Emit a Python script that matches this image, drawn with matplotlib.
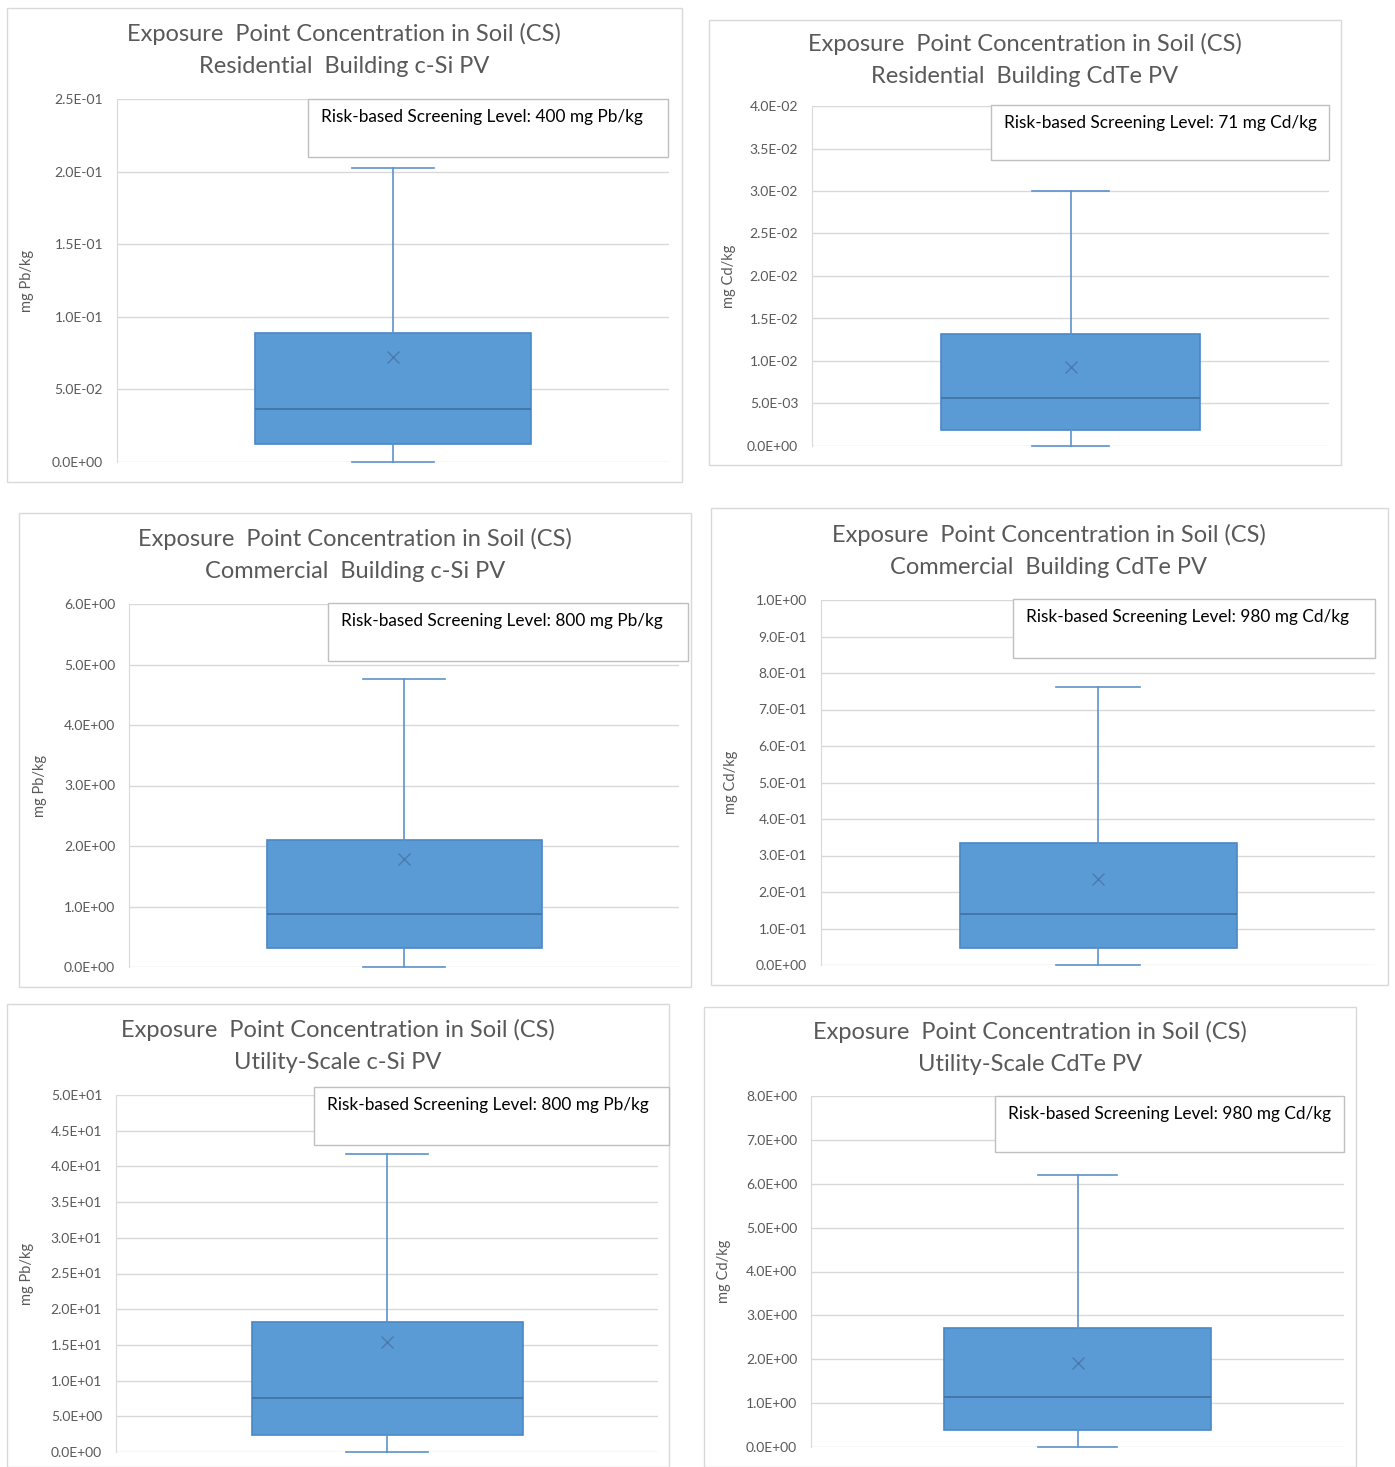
import numpy as np
import matplotlib.pyplot as plt
from matplotlib.patches import Rectangle

plt.rcParams['font.family'] = ['Lato', 'DejaVu Sans']

W, H = 1395, 1467

titles = [
    'Exposure  Point Concentration in Soil (CS)\nResidential  Building c-Si PV',
    'Exposure  Point Concentration in Soil (CS)\nResidential  Building CdTe PV',
    'Exposure  Point Concentration in Soil (CS)\nCommercial  Building c-Si PV',
    'Exposure  Point Concentration in Soil (CS)\nCommercial  Building CdTe PV',
    'Exposure  Point Concentration in Soil (CS)\nUtility-Scale c-Si PV',
    'Exposure  Point Concentration in Soil (CS)\nUtility-Scale CdTe PV',
]
ylabels = ['mg Pb/kg', 'mg Cd/kg', 'mg Pb/kg', 'mg Cd/kg', 'mg Pb/kg', 'mg Cd/kg']
screening = [
    'Risk-based Screening Level: 400 mg Pb/kg',
    'Risk-based Screening Level: 71 mg Cd/kg',
    'Risk-based Screening Level: 800 mg Pb/kg',
    'Risk-based Screening Level: 980 mg Cd/kg',
    'Risk-based Screening Level: 800 mg Pb/kg',
    'Risk-based Screening Level: 980 mg Cd/kg',
]
y_max = [0.25, 0.04, 6.0, 1.0, 50.0, 8.0]
y_step = [0.05, 0.005, 1.0, 0.1, 5.0, 1.0]

whis_lo = [0.0, 0.0, 0.0, 0.0, 0.0, 0.0]
q1 = [0.0124, 0.00188, 0.314, 0.047, 2.38, 0.39]
med = [0.0365, 0.00565, 0.876, 0.140, 7.56, 1.14]
mean = [0.0723, 0.0093, 1.785, 0.236, 15.4, 1.91]
q3 = [0.0888, 0.01318, 2.10, 0.334, 18.2, 2.71]
whis_hi = [0.2025, 0.030, 4.76, 0.762, 41.7, 6.20]

# pixel layout: frame, axes, text box (x0, y0, x1, y1), title centre, ylabel x
frames = [(7, 8, 682, 482), (709, 20, 1341, 465), (19, 513, 691, 987),
          (711, 508, 1388, 985), (7, 1004, 669, 1467), (704, 1007, 1356, 1467)]
axrects = [(117, 99, 669, 462), (812, 106, 1329, 446), (129, 604, 679, 967),
           (821, 600, 1375, 965), (116, 1095, 658, 1452), (811, 1096, 1344, 1447)]
tboxes = [(308, 99, 668, 157), (991, 105, 1329, 160), (328, 603, 688, 661),
          (1013, 599, 1375, 658), (314, 1087, 669, 1145), (995, 1096, 1344, 1152)]
title_pos = [(344, 50), (1025, 60), (355, 555), (1049, 551), (338, 1046), (1030, 1048)]
ylab_x = [34, 736, 47, 738, 34, 731]


def fx(px):
    return px / W


def fy(py):
    return 1 - py / H


fig = plt.figure(figsize=(W / 100, H / 100), dpi=100)

for i in range(6):
    x0, y0, x1, y1 = frames[i]
    fig.add_artist(Rectangle((fx(x0), fy(y1)), fx(x1 - x0), (y1 - y0) / H,
                             transform=fig.transFigure, facecolor='white',
                             edgecolor='#D9D9D9', lw=1, zorder=-5))

    a0, b0, a1, b1 = axrects[i]
    ax = fig.add_axes([fx(a0), fy(b1), fx(a1 - a0), (b1 - b0) / H])
    stats = [dict(whislo=whis_lo[i], q1=q1[i], med=med[i], mean=mean[i],
                  q3=q3[i], whishi=whis_hi[i], fliers=[])]
    arts = ax.bxp(stats, positions=[1], widths=[1.0], capwidths=[0.3],
                  showmeans=True, patch_artist=True,
                  boxprops=dict(facecolor='#5B9BD5', edgecolor='#4A88C7', lw=1.2),
                  medianprops=dict(color='#41729F', lw=1.2),
                  whiskerprops=dict(color='#5B92CB', lw=1.2),
                  capprops=dict(color='#5B92CB', lw=1.2),
                  meanprops=dict(marker='x', markeredgecolor='#4A7AAE',
                                 markersize=9, markeredgewidth=1))
    for k in arts:
        for a in arts[k]:
            a.set_clip_on(False)
    ax.set_xlim(0, 2)
    ax.set_ylim(0, y_max[i])
    ticks = np.arange(0, y_max[i] + y_step[i] / 2, y_step[i])
    ax.set_yticks(ticks)
    ax.set_yticklabels([f'{t:.1E}' for t in ticks])
    ax.set_xticks([])
    ax.tick_params(axis='y', length=0, pad=10, labelsize=10, labelcolor='#595959')
    ax.yaxis.grid(True, color='#D9D9D9', lw=1)
    ax.set_axisbelow(True)
    for s in ['top', 'right', 'bottom']:
        ax.spines[s].set_visible(False)
    ax.spines['left'].set_color('#D9D9D9')
    ax.set_ylabel(ylabels[i], fontsize=10.5, color='#595959')
    ax.yaxis.set_label_coords(-(a0 - ylab_x[i]) / (a1 - a0), 0.5)

    tx, ty = title_pos[i]
    fig.text(fx(tx), fy(ty), titles[i], ha='center', va='center', fontsize=17,
             color='#595959', linespacing=1.6)

    c0, d0, c1, d1 = tboxes[i]
    fig.add_artist(Rectangle((fx(c0), fy(d1)), fx(c1 - c0), (d1 - d0) / H,
                             transform=fig.transFigure, facecolor='white',
                             edgecolor='#BFBFBF', lw=1, zorder=3))
    fig.text(fx(c0 + 13), fy(d0 + 18), screening[i], ha='left', va='center',
             fontsize=12.4, color='black', zorder=4)

fig.savefig('out.png', dpi=100)
